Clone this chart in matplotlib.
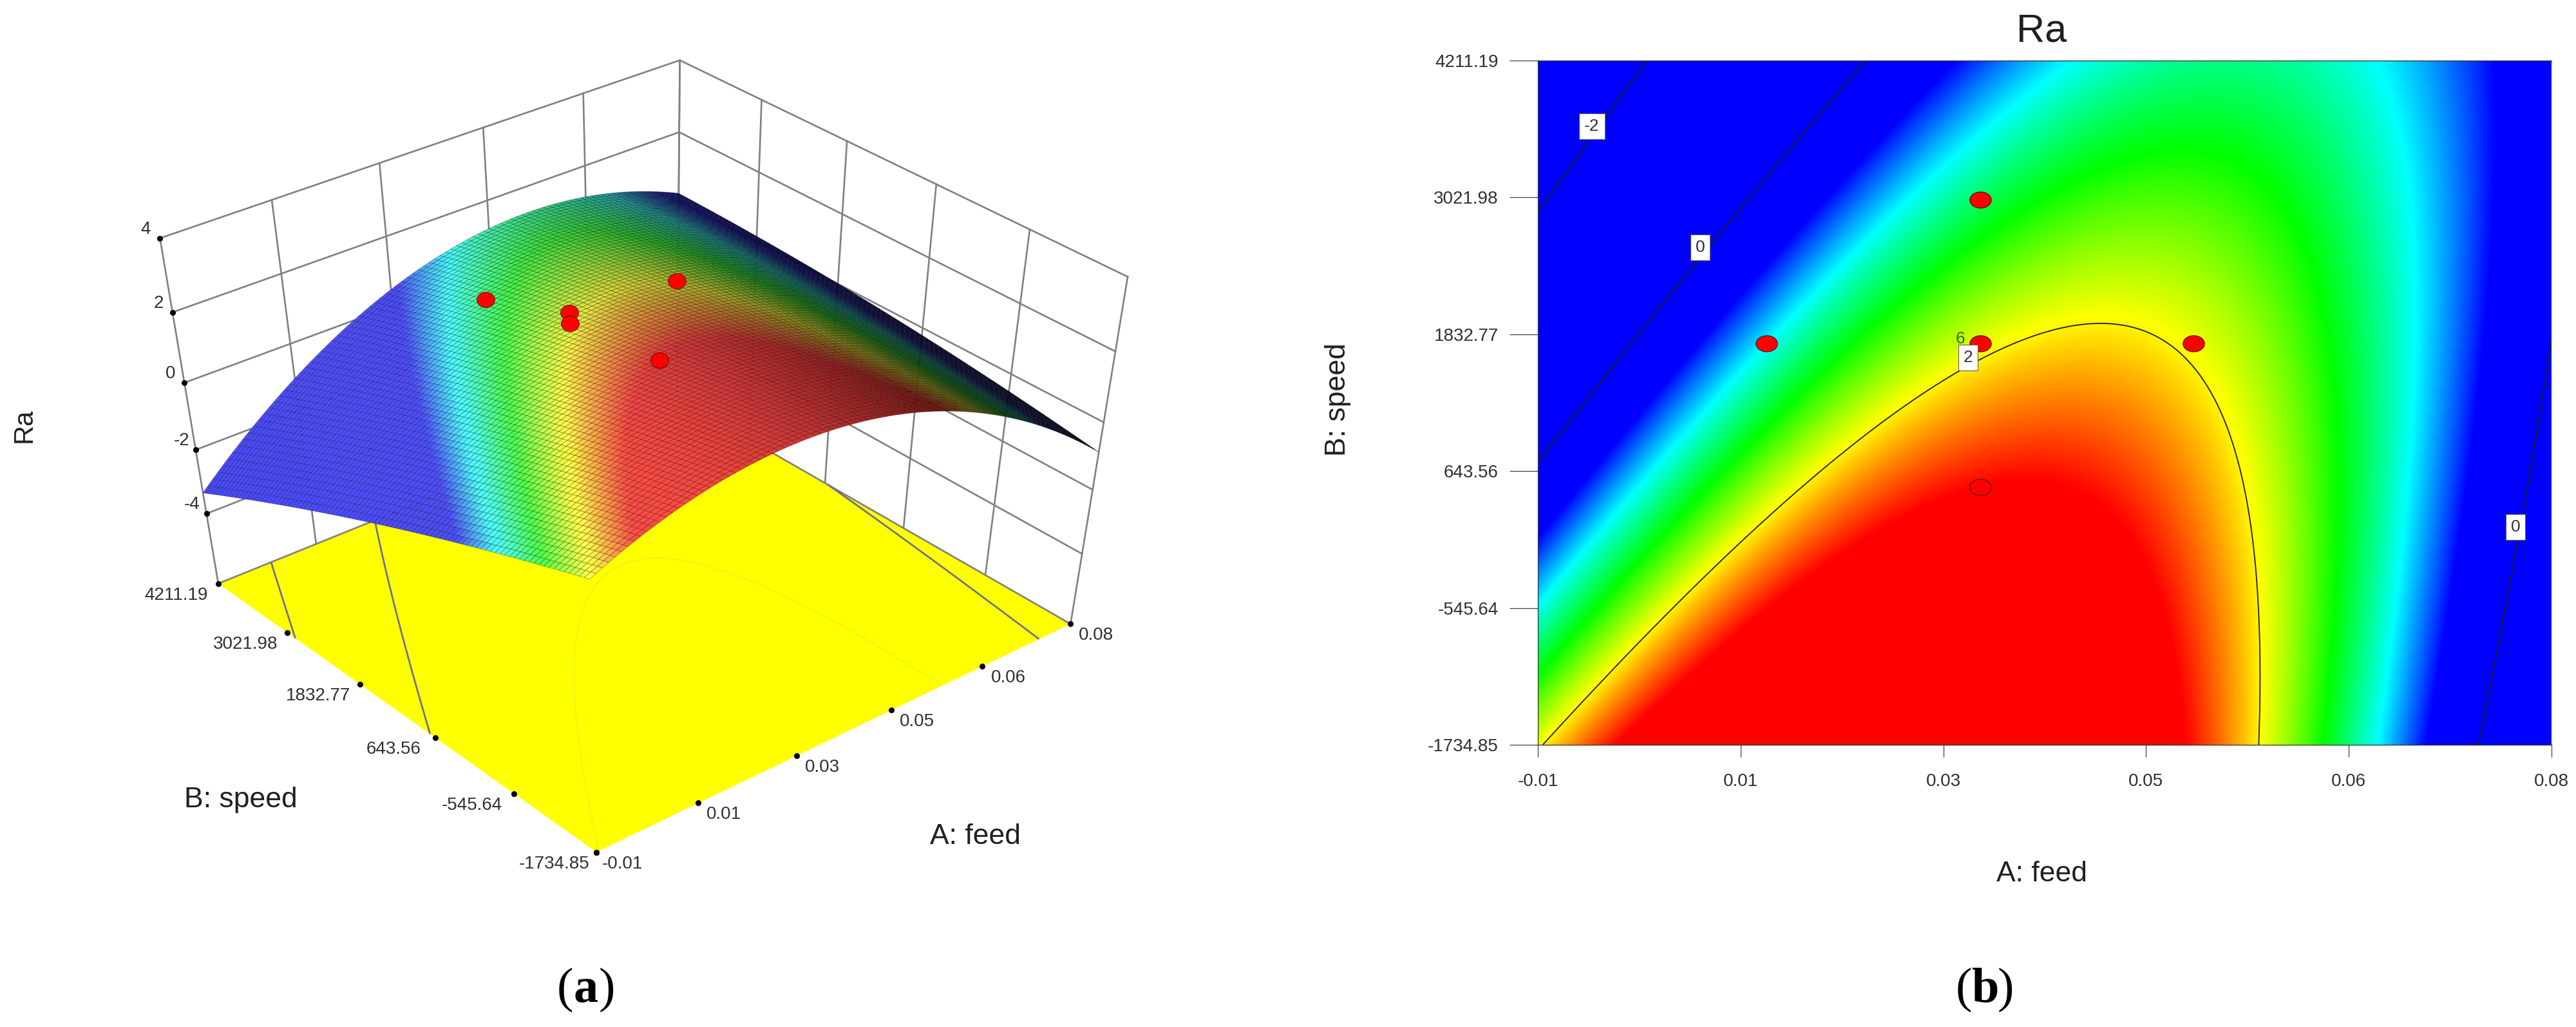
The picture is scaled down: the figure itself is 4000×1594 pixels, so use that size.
#!/usr/bin/env python3
"""Ra response surface (a) and contour map (b) for feed / speed."""
import numpy as np
import matplotlib
matplotlib.use('Agg')
import matplotlib.pyplot as plt
from matplotlib.colors import LinearSegmentedColormap
from matplotlib.path import Path
from matplotlib.transforms import Affine2D
from mpl_toolkits.mplot3d import proj3d
from numpy.polynomial import polynomial as P

# ---------- data ----------
feed_labels = ['-0.01', '0.01', '0.03', '0.05', '0.06', '0.08']
speed_ticks = [-1734.85, -545.64, 643.56, 1832.77, 3021.98, 4211.19]
speed_labels = ['-1734.85', '-545.64', '643.56', '1832.77', '3021.98', '4211.19']
ra_ticks = [-4, -2, 0, 2, 4]
feed_lo, feed_hi = -0.01, 0.08

# Ra at the tick crossings, rows = speed ascending, columns = feed ascending
ra_table = [
    [ 1.965, 2.997, 3.229, 2.661, 1.293, -0.875],
    [ 1.054, 2.342, 2.830, 2.518, 1.406, -0.506],
    [ 0.067, 1.611, 2.355, 2.299, 1.443, -0.213],
    [-0.994, 0.806, 1.806, 2.006, 1.406,  0.006],
    [-2.129, -0.073, 1.183, 1.639, 1.295, 0.151],
    [-3.338, -1.026, 0.486, 1.198, 1.110, 0.222],
]

# design points
pt_feed = [0.0103, 0.0293, 0.0293, 0.0482, 0.0293]
pt_speed = [1752, 3004, 1752, 1752, 505]
# the ones showing on the 3D surface (the low feed run is hidden behind it)
pt3_feed = [0.0293, 0.0482, 0.0293, 0.0293, 0.0293]
pt3_speed = [3004, 1752, 1752, 1752, 505]
pt3_ra = [1.31, 2.05, 2.30, 2.00, 2.40]

# contour label boxes
box_feed = [-0.0052, 0.0044, 0.0282, 0.0768]
box_speed = [3640, 2588, 1630, 156]
box_text = ['-2', '0', '2', '0']

FLOOR, TOP = -6.3, 4

W, H = 4000, 1594
plt.rcParams['font.family'] = ['Liberation Sans']
ra_cmap = LinearSegmentedColormap.from_list('ra', ['#0000ff', '#00ffff', '#00ff00', '#ffff00', '#ff0000'])
RA_LO, RA_HI = 0.55, 2.46

fig = plt.figure(figsize=(W / 100, H / 100), dpi=100, facecolor='white')


def fx(x):
    return x / W


def fy(y):
    return 1 - y / H


# smooth quadratic response through the table
feed_pos = np.linspace(feed_lo, feed_hi, 6)
table = np.array(ra_table)


def to_unit(feed, speed):
    return (np.asarray(feed) - feed_lo) / (feed_hi - feed_lo), \
           (np.asarray(speed) - speed_ticks[0]) / (speed_ticks[-1] - speed_ticks[0])


fs, ft = np.meshgrid(*to_unit(feed_pos, speed_ticks))
vand = P.polyvander2d(fs.ravel(), ft.ravel(), [2, 2])
coef = np.linalg.lstsq(vand, table.ravel(), rcond=None)[0].reshape(3, 3)


def ra_grid(n):
    g_feed = np.linspace(feed_lo, feed_hi, n)
    g_speed = np.linspace(speed_ticks[0], speed_ticks[-1], n)
    X, Y = np.meshgrid(g_feed, g_speed)
    s, t = to_unit(X, Y)
    return X, Y, P.polyval2d(s, t, coef), s, t


# ---------- (b) contour ----------
ax2 = fig.add_axes([fx(2388), fy(1156), 1574 / W, 1062 / H])
X, Y, Z, _, _ = ra_grid(500)
ax2.imshow(Z, extent=[feed_lo, feed_hi, speed_ticks[0], speed_ticks[-1]], origin='lower', aspect='auto',
           cmap=ra_cmap, vmin=RA_LO, vmax=RA_HI, interpolation='bilinear')
ax2.contour(X, Y, Z, levels=[-2, 0, 2], colors='#202010', linewidths=1.3, linestyles='solid')
ell = Path.unit_circle().transformed(Affine2D().scale(1.33, 1))
ax2.plot(pt_feed, pt_speed, ls='none', marker=ell, ms=24, mfc='#ff0000', mec='#500000', mew=0.8, zorder=5)
for bx, by, bt in zip(box_feed, box_speed, box_text):
    ax2.text(bx, by, bt, fontsize=19, color='#303040', ha='center', va='center', zorder=6,
             bbox=dict(boxstyle='square,pad=0.3', fc='white', ec='#606060', lw=0.8))
ax2.text(0.0275, 1790, '6', fontsize=19, color='#207000', ha='center', va='center', zorder=4)
ax2.set_xticks(feed_pos, feed_labels, fontsize=20, color='#303030')
ax2.set_yticks(speed_ticks, speed_labels, fontsize=20, color='#303030')
ax2.tick_params(axis='y', length=32, width=0.9, pad=12, color='#404040')
ax2.tick_params(axis='x', length=14, width=0.9, pad=18, color='#404040')
ax2.spines['right'].set_visible(False)
for sp in ['top', 'left', 'bottom']:
    ax2.spines[sp].set_color('#303030')
    ax2.spines[sp].set_linewidth(0.9)
fig.text(fx(3170), fy(49), 'Ra', fontsize=44, ha='center', va='center', color='#202020')
fig.text(fx(3170), fy(1357), 'A: feed', fontsize=32, ha='center', va='center', color='#202020')
fig.text(fx(2077), fy(620), 'B: speed', fontsize=32, rotation=90, ha='center', va='center', color='#202020')

# ---------- (a) surface ----------
ax = fig.add_axes([0, -0.2, 0.5, 1.4], projection='3d', proj_type='ortho', computed_zorder=False)
ax.set_axis_off()
ax.patch.set_visible(False)
ax.set_autoscale_on(False)

GRID = dict(color='#808080', lw=1.9)
s_lo, s_hi = speed_ticks[0], speed_ticks[-1]

# back walls
for f in feed_pos:
    ax.plot([f, f], [s_hi, s_hi], [FLOOR, TOP], zorder=1, **GRID)
for sp in speed_ticks:
    ax.plot([feed_hi, feed_hi], [sp, sp], [FLOOR, TOP], zorder=1, **GRID)
for r in ra_ticks:
    ax.plot([feed_lo, feed_hi, feed_hi], [s_hi, s_hi, s_lo], [r, r, r], zorder=1, **GRID)

# floor, yellow with the projected contours
fl_x = np.array([[feed_lo, feed_hi], [feed_lo, feed_hi]])
fl_y = np.array([[s_lo, s_lo], [s_hi, s_hi]])
ax.plot_surface(fl_x, fl_y, np.full((2, 2), FLOOR), color='#ffff00', shade=False, linewidth=0, zorder=2)
ax.plot([feed_lo, feed_hi, feed_hi], [s_hi, s_hi, s_lo], [FLOOR] * 3, zorder=3, **GRID)
X, Y, Z, _, _ = ra_grid(200)
ax.contour(X, Y, Z, levels=[-2, 0], zdir='z', offset=FLOOR, colors='#6c6c90', linewidths=1.9,
           linestyles='solid', zorder=3)
ax.contour(X, Y, Z, levels=[2], zdir='z', offset=FLOOR, colors='#e4f418', linewidths=1.0, zorder=3)

# lit mesh
X, Y, Z, s, t = ra_grid(91)
zt, zs = np.gradient(Z, t[:, 0], s[0, :])
nrm = np.dstack([-zs / 12, -zt / 12, np.ones_like(Z)])
nrm /= np.linalg.norm(nrm, axis=2, keepdims=True)
light = np.array([-0.6, -0.2, 0.77])
dif = np.clip(nrm @ light, 0, 1)[..., None]
base = ra_cmap(np.clip((Z - RA_LO) / (RA_HI - RA_LO), 0, 1))[..., :3]
cols = np.clip(0.85 * base * dif + 0.4 * dif ** 2, 0, 1)
ax.plot_surface(X, Y, Z, facecolors=cols, rstride=1, cstride=1, shade=False, edgecolor=(0, 0, 0, 0.35),
                linewidth=0.6, zorder=5)
ax.plot(pt3_feed, pt3_speed, pt3_ra, ls='none', marker=Path.unit_circle().transformed(Affine2D().scale(1.15, 1)),
        ms=20, mfc='#ff0000', mec='#600000', mew=0.6, zorder=6)

# the camera: solved from where the box corners sit in the picture
corners = np.array([
    [0, 0, FLOOR], [1, 0, FLOOR], [0, 1, FLOOR], [1, 1, FLOOR],
    [1, 1, TOP], [0, 1, TOP], [1, 0, TOP],
    [0, 1, -4], [1, 0, -4], [1, 1, 2], [1, 0, 2],
], dtype=float)
corner_px = np.array([
    [927, 1326], [1659, 973], [341, 907], [1054, 625],
    [1054, 97], [249, 375], [1753, 437],
    [317, 788], [1680, 850], [1054, 197], [1733, 540],
], dtype=float)
ax.apply_aspect()
disp = np.c_[corner_px[:, 0], H - corner_px[:, 1]]
uv = ax.transData.inverted().transform(disp)
D = np.array([
    [1 / (feed_hi - feed_lo), 0, 0, -feed_lo / (feed_hi - feed_lo)],
    [0, 1 / (s_hi - s_lo), 0, -s_lo / (s_hi - s_lo)],
    [0, 0, 1 / (TOP - FLOOR), -FLOOR / (TOP - FLOOR)],
    [0, 0, 0, 1],
])
pw = np.c_[corners[:, 0], corners[:, 1], (corners[:, 2] - FLOOR) / (TOP - FLOOR), np.ones(len(corners))]
rows = []
for p, (u, v) in zip(pw, uv):
    rows.append(np.r_[p, np.zeros(4), -u * p])
    rows.append(np.r_[np.zeros(4), p, -v * p])
cam = np.linalg.svd(np.array(rows))[2][-1].reshape(3, 4)
if cam[2] @ np.array([0.5, 0.5, 0.5, 1]) < 0:
    cam = -cam
depth = np.array([1, 1, -0.3, 0.0]) * abs(cam[2] @ np.array([0.5, 0.5, 0.5, 1]))
M = np.vstack([cam[0], cam[1], depth, cam[2]]) @ D
ax.get_proj = lambda: M


def label3d(fd, sp, ra, text, dx, dy):
    px, py, _ = proj3d.proj_transform(fd, sp, ra, M)
    ax.annotate(text, xy=(px, py), xytext=(dx, -dy), textcoords='offset pixels', ha='center', va='center',
                fontsize=20, color='#303030', annotation_clip=False)


# axis dots and tick labels
for r in ra_ticks:
    ax.plot([feed_lo], [s_hi], [r], ls='none', marker='o', ms=5.5, color='black', zorder=7)
    label3d(feed_lo, s_hi, r, str(r), -22, -14)
for sp, lb in zip(speed_ticks, speed_labels):
    ax.plot([feed_lo], [sp], [FLOOR], ls='none', marker='o', ms=5.5, color='black', zorder=7)
    label3d(feed_lo, sp, FLOOR, lb, -65, 18)
for f, lb in zip(feed_pos, feed_labels):
    ax.plot([f], [s_lo], [FLOOR], ls='none', marker='o', ms=5.5, color='black', zorder=7)
    label3d(f, s_lo, FLOOR, lb, 40, 18)

fig.text(fx(38), fy(660), 'Ra', fontsize=30, rotation=90, ha='center', va='center', color='#202020')
fig.text(fx(374), fy(1241), 'B: speed', fontsize=32, ha='center', va='center', color='#202020')
fig.text(fx(1515), fy(1299), 'A: feed', fontsize=32, ha='center', va='center', color='#202020')

# captions, the letter is bold
for cx, letter in [(910, 'a'), (3082, 'b')]:
    fig.text(fx(cx), fy(1555), letter, family='Liberation Serif', weight='bold', fontsize=55, ha='center', va='baseline')
    fig.text(fx(cx - 20), fy(1555), '(', family='Liberation Serif', fontsize=55, ha='right', va='baseline')
    fig.text(fx(cx + 20), fy(1555), ')', family='Liberation Serif', fontsize=55, ha='left', va='baseline')

fig.savefig('out.png', dpi=100)
